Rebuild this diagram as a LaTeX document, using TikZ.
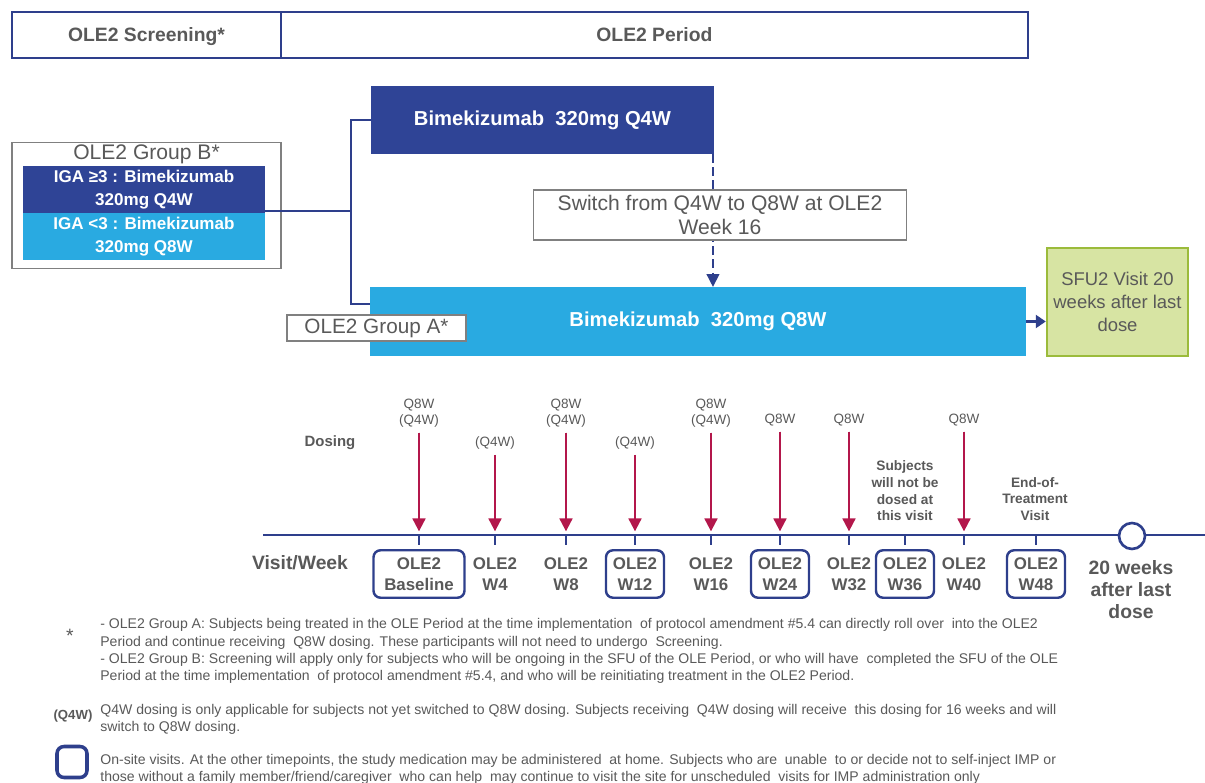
\documentclass[tikz,border=0pt]{standalone}
\usepackage{fontspec}
\setmainfont{Liberation Sans}
\usepackage{xcolor}
\usetikzlibrary{positioning, arrows.meta, calc}

\definecolor{navy}{HTML}{2E3F8C}
\definecolor{q4wblue}{HTML}{2F4496}
\definecolor{skyblue}{HTML}{29AAE1}
\definecolor{crimson}{HTML}{B3174B}
\definecolor{txtgray}{HTML}{595959}
\definecolor{boxgray}{HTML}{808080}
\definecolor{sfufill}{HTML}{D7E4A3}
\definecolor{sfuline}{HTML}{9BBB3B}

\begin{document}
\begin{tikzpicture}[
  x=0.02cm, y=-0.02cm,
  >={Triangle[length=2.6mm, width=2.5mm]}
]
\tikzset{
  hdr/.style    ={draw=navy, line width=1.5pt, outer sep=0pt, inner sep=0pt,
                  minimum height=0.92cm, text=txtgray, text depth=0pt,
                  font=\fontsize{11}{13}\selectfont\bfseries},
  arm/.style    ={inner sep=0pt, outer sep=0pt, text=white, align=center,
                  font=\fontsize{11.5}{14}\selectfont\bfseries},
  iga/.style    ={arm, minimum width=4.84cm, minimum height=0.94cm,
                  font=\fontsize{9.7}{12.8}\selectfont\bfseries},
  plainbox/.style={draw=boxgray, line width=0.6pt, fill=white, inner sep=0pt,
                  align=center, text=txtgray},
  conn/.style   ={draw=navy, line width=1.3pt},
  darr/.style   ={->, conn, line width=1.5pt, dash pattern=on 5pt off 2.5pt},
  sarr/.style   ={-{Triangle[length=2mm, width=2.6mm]}, conn},
  tline/.style  ={draw=navy, line width=1.3pt},
  tickmark/.style={draw=navy, line width=1.5pt},
  visit/.style  ={rounded corners=4pt, line width=1.4pt, inner sep=0pt,
                  minimum height=0.95cm, align=center, text=txtgray,
                  font=\fontsize{9.6}{12}\selectfont\bfseries},
  dose/.style   ={inner sep=2pt, align=center, text=txtgray,
                  font=\fontsize{7.7}{9}\selectfont},
  dosearr/.style={->, draw=crimson, fill=crimson, line width=1.7pt,
                  shorten >=2pt, shorten <=1pt},
  note/.style   ={align=center, text=txtgray,
                  font=\fontsize{7.8}{9.5}\selectfont\bfseries},
  foot/.style   ={anchor=west, align=left, inner sep=0pt, text=txtgray,
                  font=\fontsize{8}{9.8}\selectfont}
}
\useasboundingbox (0,0) rectangle (1205,783);

%% ----- Header: screening and period -----
\node[hdr, minimum width=5.38cm] (scr) at (146.5,35) {OLE2 Screening*};
\node[hdr, minimum width=14.94cm, right=0pt of scr] (per) {OLE2 Period};

%% ----- Treatment arms -----
\node[arm, fill=q4wblue, minimum width=6.86cm, minimum height=1.36cm]
  (q4w) at (542.5,120) {Bimekizumab~ 320mg Q4W};
\node[arm, fill=skyblue, minimum width=13.12cm, minimum height=1.38cm]
  (q8w) at (698,321.5) {Bimekizumab~ 320mg Q8W};

%% ----- Group B -----
\node[plainbox, minimum width=5.38cm, minimum height=2.52cm] (grpB)
  at (146.5,205.5) {};
\node[text=txtgray, font=\fontsize{12}{14}\selectfont] (grpBt)
  at (146.5,154) {OLE2 Group B*};
\node[iga, fill=q4wblue] (igaHi) at (144,189.5)
  {IGA ≥3 : Bimekizumab\\320mg Q4W};
\node[iga, fill=skyblue, below=0pt of igaHi] (igaLo)
  {IGA <3 : Bimekizumab\\320mg Q8W};

%% ----- Bracket from group B to the arms -----
\draw[conn] ([yshift=0.04cm]igaHi.south east) -- ++(1.72cm,0) coordinate (brk);
\draw[conn] (q4w.west) -| (brk) |- ([yshift=0.35cm]q8w.west);

%% ----- Group A label -----
\node[plainbox, minimum width=3.58cm, minimum height=0.52cm,
  font=\fontsize{11.8}{14}\selectfont] (grpA) at (376.5,328) {OLE2 Group A*};

%% ----- Switch Q4W -> Q8W -----
\draw[darr] ([xshift=-0.02cm]q4w.south east)
  -- ([xshift=-0.02cm]q4w.south east |- q8w.north);
\node[plainbox, minimum width=7.48cm, minimum height=1.0cm,
  font=\fontsize{12}{14}\selectfont] (swt) at (720,215)
  {Switch from Q4W to Q8W at OLE2\\Week 16};

%% ----- Safety follow-up -----
\node[plainbox, draw=sfuline, line width=1.4pt, fill=sfufill,
  minimum width=2.82cm, minimum height=2.16cm,
  font=\fontsize{10.5}{13.3}\selectfont] (sfu) at (1117.5,302)
  {SFU2 Visit 20\\weeks after last\\dose};
\draw[sarr] (q8w.east) -- (q8w.east -| sfu.west);

%% ----- Timeline -----
\coordinate (tl0) at (263,535);
\coordinate (tl1) at (1205,535);
\draw[tline] (tl0) -- (tl1);
\node[circle, draw=navy, line width=1.5pt, fill=white, minimum size=0.52cm]
  (fin) at (1132,536) {};

\node[text=txtgray, font=\fontsize{11}{13}\selectfont\bfseries] (vw)
  at (300,563) {Visit/Week};
\node[text=txtgray, font=\fontsize{8.5}{10}\selectfont\bfseries] (dosing)
  at (330,443) {Dosing};

\foreach \vx/\wk/\bw/\bd [count=\i] in {419/Baseline/1.82/navy,
    495/W4/1.16/none, 566/W8/1.16/none, 635/W12/1.16/navy,
    711/W16/1.16/none, 780/W24/1.16/navy, 849/W32/1.16/none,
    905/W36/1.16/navy, 964/W40/1.16/none, 1036/W48/1.16/navy} {
  \coordinate (t\i) at (\vx,535);
  \draw[tickmark] (t\i) -- ++(0,10);
  \node[visit, draw=\bd, minimum width=\bw cm] (v\i) at (\vx,574)
    {OLE2\\\wk};
}

%% ----- Dosing arrows -----
\foreach \i/\dy/\dlab in {1/413/{Q8W\\(Q4W)}, 2/443/{(Q4W)},
    3/413/{Q8W\\(Q4W)}, 4/443/{(Q4W)}, 5/413/{Q8W\\(Q4W)}, 6/420/{Q8W},
    7/420/{Q8W}, 9/420/{Q8W}} {
  \node[dose] (d\i) at ($(t\i)+(0,\dy-535)$) {\dlab};
  \draw[dosearr] (d\i.south) -- (t\i);
}

\node[note] (nodose) at (905,491)
  {Subjects\\will not be\\dosed at\\this visit};
\node[note] (eot) at (1035,499) {End-of-\\Treatment\\Visit};
\node[text=txtgray, align=center,
  font=\fontsize{11}{12.5}\selectfont\bfseries] (after) at (1131,590)
  {20 weeks\\after last\\dose};

%% ----- Footnotes -----
\node[text=txtgray, font=\fontsize{11}{13}\selectfont] (star) at (70,636) {*};
\node[foot] (fn1) at (100,651)
  {- OLE2 Group A: Subjects being treated in the OLE Period at the time implementation\ \ of protocol amendment \#5.4 can directly roll over\ \ into the OLE2\\
   Period and continue receiving\ \ Q8W dosing. These participants will not need to undergo\ \ Screening.\\
   - OLE2 Group B: Screening will apply only for subjects who will be ongoing in the SFU of the OLE Period, or who will have\ \ completed the SFU of the OLE\\
   Period at the time implementation\ \ of protocol amendment \#5.4, and who will be reinitiating treatment in the OLE2 Period.};

\node[text=txtgray, font=\fontsize{7.5}{9}\selectfont\bfseries] (q4wkey)
  at (73,716) {(Q4W)};
\node[foot] (fn2) at (100,719.5)
  {Q4W dosing is only applicable for subjects not yet switched to Q8W dosing. Subjects receiving\ \ Q4W dosing will receive\ \ this dosing for 16 weeks and will\\
   switch to Q8W dosing.};

\node[draw=navy, line width=2pt, rounded corners=4pt, minimum width=0.6cm,
  minimum height=0.62cm, inner sep=0pt] (sitekey) at (72,762) {};
\node[foot] (fn3) at (100,769)
  {On-site visits. At the other timepoints, the study medication may be administered\ \ at home. Subjects who are\ \ unable\ \ to or decide not to self-inject IMP or\\
   those without a family member/friend/caregiver\ \ who can help\ \ may continue to visit the site for unscheduled\ \ visits for IMP administration only};

\end{tikzpicture}
\end{document}
